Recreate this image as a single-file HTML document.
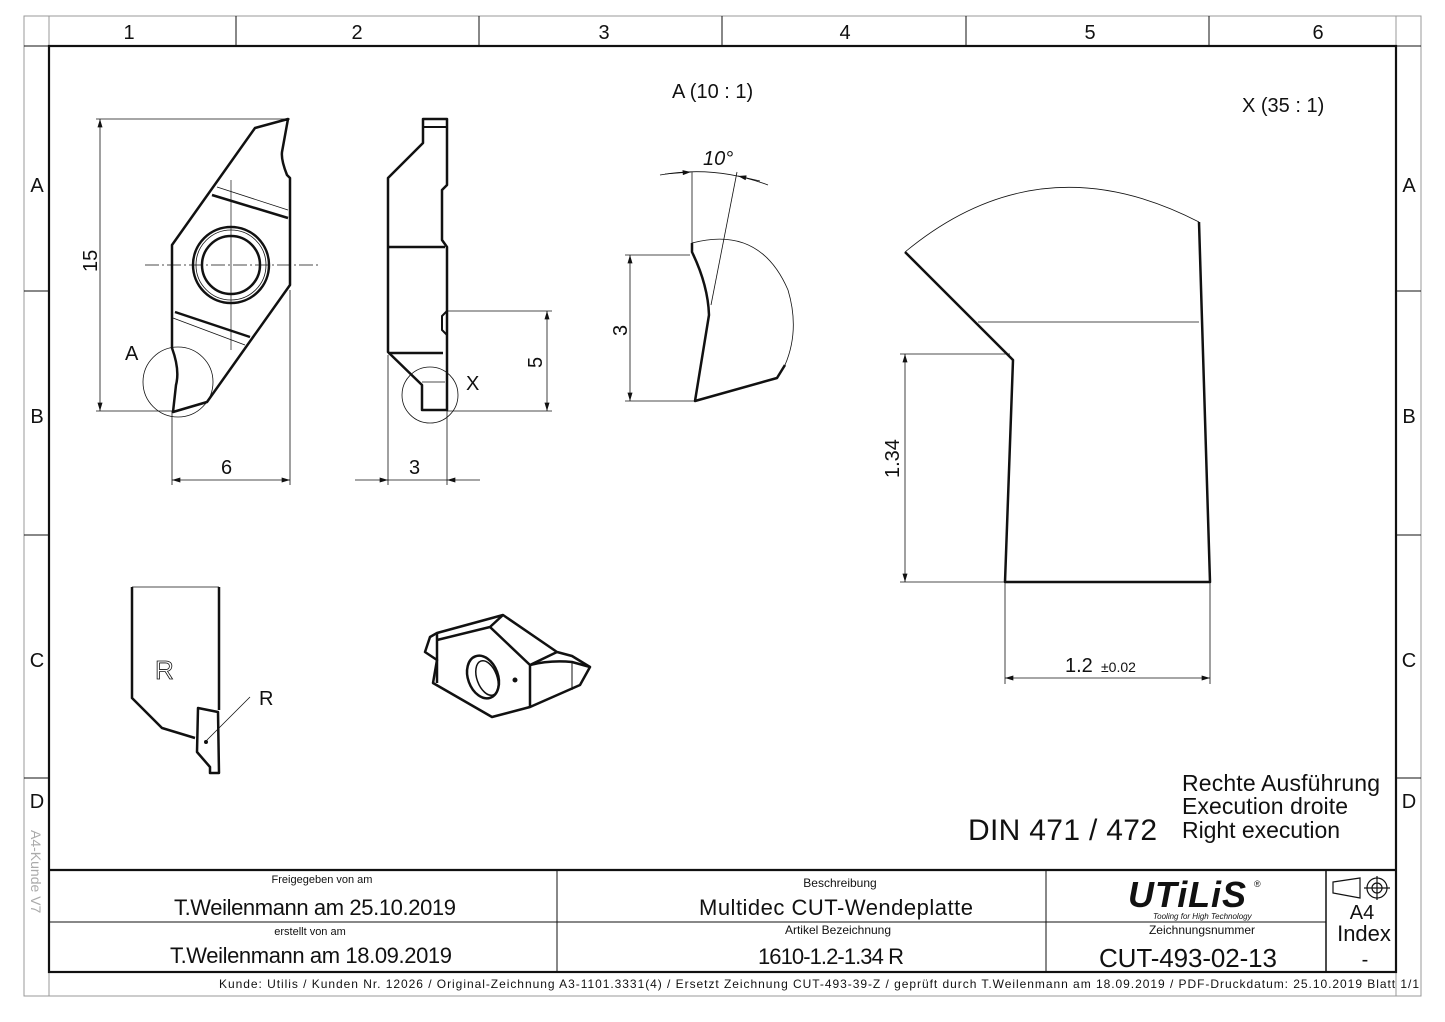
<!DOCTYPE html>
<html><head><meta charset="utf-8"><style>
html,body{margin:0;padding:0;background:#fff;}
svg{display:block;}
text{font-family:"Liberation Sans Narrow","Liberation Sans",sans-serif;fill:#111;}
</style></head><body>
<svg width="1445" height="1022" viewBox="0 0 1445 1022" xmlns="http://www.w3.org/2000/svg">
<defs>
<marker id="ar" viewBox="0 0 10 6" refX="10" refY="3" markerWidth="12" markerHeight="5" orient="auto-start-reverse" markerUnits="userSpaceOnUse"><path d="M0,0 L10,3 L0,6 z" fill="#111"/></marker>
</defs>
<g fill="none" stroke="#111">
<!-- outer frame -->
<rect x="24" y="16" width="1397" height="980" stroke="#999" stroke-width="1"/>
<line x1="24" y1="46" x2="1421" y2="46" stroke-width="1"/>
<line x1="49" y1="16" x2="49" y2="996" stroke="#999"/>
<line x1="1396" y1="16" x2="1396" y2="996" stroke="#999"/>
<rect x="49" y="46" width="1347" height="926" stroke-width="2.2"/>
<g stroke-width="1">
<line x1="236" y1="16" x2="236" y2="46"/><line x1="479" y1="16" x2="479" y2="46"/>
<line x1="722" y1="16" x2="722" y2="46"/><line x1="966" y1="16" x2="966" y2="46"/>
<line x1="1209" y1="16" x2="1209" y2="46"/>
<line x1="24" y1="291" x2="49" y2="291"/><line x1="24" y1="535" x2="49" y2="535"/><line x1="24" y1="778" x2="49" y2="778"/>
<line x1="1396" y1="291" x2="1421" y2="291"/><line x1="1396" y1="535" x2="1421" y2="535"/><line x1="1396" y1="778" x2="1421" y2="778"/>
</g>
<!-- title block -->
<line x1="49" y1="870" x2="1396" y2="870" stroke-width="2.2"/>
<line x1="49" y1="922" x2="1326" y2="922" stroke-width="1"/>
<line x1="557" y1="870" x2="557" y2="972" stroke-width="1"/>
<line x1="1046" y1="870" x2="1046" y2="972" stroke-width="1"/>
<line x1="1326" y1="870" x2="1326" y2="972" stroke-width="1.5"/>

<!-- front view insert -->
<path d="M288,119 L255,128 L172,245 L172,348 Q180,370 176,385 L173,412 L207,402 L290,285 L290,178 L287,175 Q281,160 282,152 Z" stroke-width="2.5" stroke-linejoin="round"/>
<line x1="212" y1="195" x2="288" y2="218" stroke-width="2.5"/>
<line x1="217" y1="187" x2="288" y2="210" stroke-width="0.8"/>
<line x1="175" y1="312" x2="250" y2="337" stroke-width="2.5"/>
<line x1="173" y1="318" x2="245" y2="345" stroke-width="0.8"/>
<circle cx="231" cy="265" r="38" stroke-width="2.5"/>
<circle cx="231" cy="265" r="35" stroke-width="0.8"/>
<circle cx="231" cy="265" r="29" stroke-width="2.5"/>
<line x1="145" y1="265" x2="318" y2="265" stroke-width="0.7" stroke-dasharray="14,3,2,3"/>
<line x1="231" y1="180" x2="231" y2="350" stroke-width="0.7"/>
<circle cx="178" cy="382" r="35" stroke-width="0.8"/>
<!-- dims front -->
<g stroke-width="0.8">
<line x1="96" y1="119" x2="290" y2="119"/><line x1="96" y1="411" x2="172" y2="411"/>
<line x1="100" y1="119" x2="100" y2="411" marker-start="url(#ar)" marker-end="url(#ar)"/>
<line x1="172" y1="411" x2="172" y2="485"/><line x1="290" y1="290" x2="290" y2="485"/>
<line x1="172" y1="480" x2="290" y2="480" marker-start="url(#ar)" marker-end="url(#ar)"/>
</g>

<!-- side view -->
<path d="M423,119 L447,119 L447,185 L442,190 L442,240 L447,247 L447,410 L422,410 L422,385 L388,352 L388,178 L423,143 Z" stroke-width="2.5" stroke-linejoin="round"/>
<line x1="423" y1="127" x2="447" y2="127" stroke-width="2"/>
<line x1="388" y1="247" x2="445" y2="247" stroke-width="2.5"/>
<line x1="388" y1="353" x2="443" y2="353" stroke-width="2.5"/>
<path d="M447,311 L442,316 L442,330 L447,335" stroke-width="2"/>
<line x1="422" y1="382" x2="445" y2="382" stroke-width="0.8"/>
<circle cx="430" cy="395" r="28" stroke-width="0.8"/>
<g stroke-width="0.8">
<line x1="447" y1="311" x2="552" y2="311"/><line x1="447" y1="411" x2="552" y2="411"/>
<line x1="547" y1="311" x2="547" y2="411" marker-start="url(#ar)" marker-end="url(#ar)"/>
<line x1="388" y1="355" x2="388" y2="485"/><line x1="447" y1="411" x2="447" y2="485"/>
<line x1="355" y1="480" x2="388" y2="480" marker-end="url(#ar)"/>
<line x1="480" y1="480" x2="447" y2="480" marker-end="url(#ar)"/>
<line x1="388" y1="480" x2="447" y2="480"/>
</g>

<!-- detail A -->
<path d="M692,243 L692,252 Q708,285 709,315 L695,401 L777,378 L785,365" stroke-width="2.5" stroke-linejoin="round"/>
<path d="M692,243 Q760,225 788,290 Q800,330 785,365" stroke-width="0.8"/>
<g stroke-width="0.8">
<line x1="692" y1="243" x2="692" y2="172"/>
<line x1="711" y1="305" x2="737" y2="172"/>
<path d="M660,175 Q715,165 768,185"/>
<line x1="665" y1="174" x2="691" y2="172" marker-end="url(#ar)"/>
<line x1="760" y1="181" x2="738" y2="176" marker-end="url(#ar)"/>
<line x1="625" y1="255" x2="690" y2="255"/><line x1="625" y1="401" x2="695" y2="401"/>
<line x1="630" y1="255" x2="630" y2="401" marker-start="url(#ar)" marker-end="url(#ar)"/>
</g>

<!-- detail X -->
<path d="M905,252 L1013,360 L1005,582 L1210,582 L1199,222" stroke-width="2.5" stroke-linejoin="round"/>
<path d="M905,252 Q1040,140 1199,222" stroke-width="0.8"/>
<g stroke-width="0.8">
<line x1="978" y1="322" x2="1199" y2="322"/>
<line x1="900" y1="354" x2="1010" y2="354"/><line x1="900" y1="582" x2="1005" y2="582"/>
<line x1="905" y1="354" x2="905" y2="582" marker-start="url(#ar)" marker-end="url(#ar)"/>
<line x1="1005" y1="582" x2="1005" y2="684"/><line x1="1210" y1="582" x2="1210" y2="684"/>
<line x1="1005" y1="678" x2="1210" y2="678" marker-start="url(#ar)" marker-end="url(#ar)"/>
</g>

<!-- holder -->
<path d="M132,587 L132,698 L162,728 L195,738" stroke-width="2.5"/>
<line x1="132" y1="587" x2="219" y2="587" stroke-width="0.8"/>
<line x1="219" y1="587" x2="219" y2="710" stroke-width="2.5"/>
<path d="M198,708 L218,712 L219,773 L210,773 L210,767 L197,752 Z" stroke-width="2.5" stroke-linejoin="round"/>
<line x1="205" y1="742" x2="250" y2="697" stroke-width="0.8"/>
<circle cx="206" cy="742" r="1.5" fill="#111"/>

<!-- 3D view -->
<g stroke-width="2.5" stroke-linejoin="round">
<path d="M425,652 L430,637 L437,633 L503,615 L557,652 L572,656 L590,667 L580,685 L530,707 L492,717 L433,683 L437,660 Z"/>
<path d="M437,633 L437,683"/>
<path d="M437,640 L490,627 L503,615"/>
<path d="M490,627 L530,665 L530,707"/>
<path d="M530,665 L557,652"/>
<path d="M530,665 Q550,660 572,662 L590,667"/>
<path d="M572,662 L572,690" stroke-width="1"/>
<ellipse cx="483" cy="677" rx="15" ry="22" transform="rotate(-20 483 677)"/>
<ellipse cx="487" cy="678" rx="10" ry="18" transform="rotate(-20 487 678)" stroke-width="1.5"/>
</g>
<circle cx="515" cy="680" r="2" fill="#111"/>

<!-- logo symbol -->
<g stroke-width="1.2">
<path d="M1333,882 L1360,878 L1360,898 L1333,893 Z"/>
<circle cx="1377" cy="888" r="10"/><circle cx="1377" cy="888" r="5"/>
<line x1="1364" y1="888" x2="1390" y2="888"/><line x1="1377" y1="876" x2="1377" y2="900"/>
</g>
</g>

<!-- ruler labels -->
<g font-size="20" text-anchor="middle">
<text x="129" y="39">1</text><text x="357" y="39">2</text><text x="604" y="39">3</text>
<text x="845" y="39">4</text><text x="1090" y="39">5</text><text x="1318" y="39">6</text>
<text x="37" y="192">A</text><text x="37" y="423">B</text><text x="37" y="667">C</text><text x="37" y="808">D</text>
<text x="1409" y="192">A</text><text x="1409" y="423">B</text><text x="1409" y="667">C</text><text x="1409" y="808">D</text>
</g>
<text x="0" y="0" font-size="14" fill="#aaa" transform="translate(31,830) rotate(90)" style="fill:#aaa">A4-Kunde V7</text>

<!-- drawing labels -->
<g font-size="20">
<text x="0" y="0" transform="translate(97,272) rotate(-90)">15</text>
<text x="221" y="474">6</text>
<text x="409" y="474">3</text>
<text x="0" y="0" transform="translate(542,368) rotate(-90)">5</text>
<text x="125" y="360">A</text>
<text x="466" y="390">X</text>
<text x="672" y="98">A (10 : 1)</text>
<text x="1242" y="112">X (35 : 1)</text>
<text x="703" y="165" font-style="italic">10°</text>
<text x="0" y="0" transform="translate(627,336) rotate(-90)">3</text>
<text x="0" y="0" transform="translate(899,478) rotate(-90)">1.34</text>
<text x="1065" y="672">1.2</text>
<text x="1101" y="672" font-size="14">±0.02</text>
<text x="259" y="705">R</text>
<text x="155" y="679" font-size="26" fill="#fff" stroke="#111" stroke-width="0.8" style="fill:#fff">R</text>
</g>

<text x="1182" y="791" font-size="23" textLength="198">Rechte Ausführung</text>
<text x="1182" y="814" font-size="23" textLength="166">Execution droite</text>
<text x="1182" y="838" font-size="23" textLength="158">Right execution</text>
<text x="968" y="840" font-size="30" textLength="189">DIN 471 / 472</text>

<!-- title block text -->
<g text-anchor="middle">
<text x="322" y="883" font-size="11" fill="#333">Freigegeben von am</text>
<text x="315" y="915" font-size="22" textLength="282">T.Weilenmann am 25.10.2019</text>
<text x="310" y="935" font-size="11" fill="#333">erstellt von am</text>
<text x="311" y="963" font-size="22" textLength="282">T.Weilenmann am 18.09.2019</text>
<text x="840" y="887" font-size="12" fill="#333">Beschreibung</text>
<text x="836" y="915" font-size="22" textLength="274">Multidec CUT-Wendeplatte</text>
<text x="838" y="934" font-size="12" fill="#333">Artikel Bezeichnung</text>
<text x="831" y="964" font-size="22" textLength="146">1610-1.2-1.34 R</text>
<text x="1202" y="934" font-size="12" fill="#333">Zeichnungsnummer</text>
<text x="1188" y="967" font-size="26" textLength="178">CUT-493-02-13</text>
<text x="1362" y="919" font-size="20">A4</text>
<text x="1364" y="941" font-size="22">Index</text>
<text x="1365" y="966" font-size="20">-</text>
</g>
<text x="1128" y="907" font-size="36" font-weight="bold" font-style="italic" textLength="118">UTiLiS</text>
<text x="1254" y="887" font-size="9">®</text>
<text x="1153" y="919" font-size="8" font-style="italic">Tooling for High Technology</text>

<text x="219" y="988" font-size="12" textLength="1200">Kunde: Utilis / Kunden Nr. 12026 /  Original-Zeichnung A3-1101.3331(4)     /     Ersetzt Zeichnung CUT-493-39-Z / geprüft durch T.Weilenmann am 18.09.2019 / PDF-Druckdatum: 25.10.2019  Blatt 1/1</text>
</svg>
</body></html>
